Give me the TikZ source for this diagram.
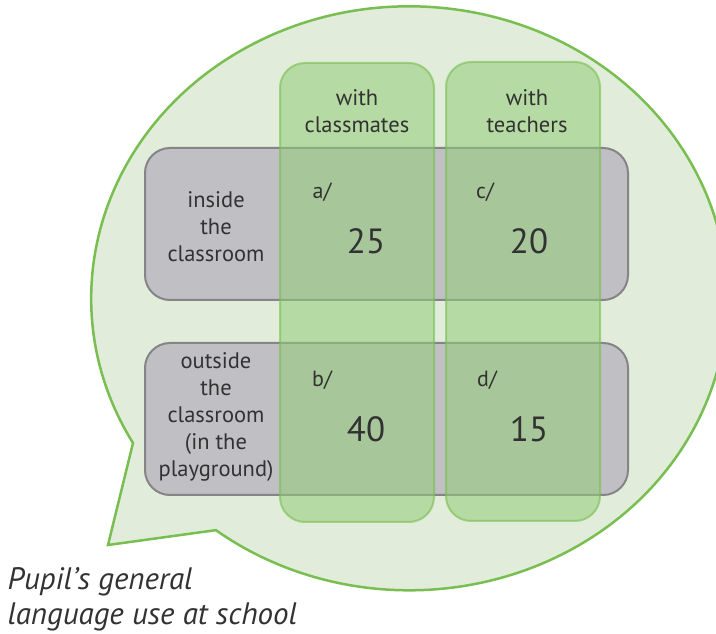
\documentclass[tikz,border=0pt]{standalone}
\usepackage{fontspec}
\setmainfont{PT Sans}
\usepackage{xcolor}
\definecolor{bubblefill}{RGB}{225,237,218}
\definecolor{bubbleline}{RGB}{120,190,80}
\definecolor{boxgrey}{RGB}{192,192,196}
\definecolor{boxline}{RGB}{133,133,136}
\definecolor{colgreen}{RGB}{147,203,118}
\definecolor{textgrey}{RGB}{50,50,50}

\begin{document}
\begin{tikzpicture}[x=1pt, y=1pt,
		bubble/.style={fill=bubblefill, draw=bubbleline, line width=2.5pt, line join=miter},
		rowbox/.style={draw=boxline, fill=boxgrey, line width=2pt, rounded corners=25pt, minimum width=483pt, minimum height=152pt, inner sep=0pt},
		colbox/.style={draw=bubbleline, fill=colgreen, fill opacity=0.55, draw opacity=0.6, line width=2pt, rounded corners=25pt, minimum width=154pt, minimum height=459pt, inner sep=0pt},
		lbl/.style={text=textgrey, align=center, font=\fontsize{22.5}{27}\selectfont},
		tag/.style={text=textgrey, font=\fontsize{22}{24}\selectfont},
		num/.style={text=textgrey, font=\fontsize{35}{38}\selectfont}]
		\useasboundingbox (0,0) rectangle (716,633);
		\clip (0,0) rectangle (716,633);
		% Sprechblase
		\draw[bubble] (217,103) -- (108,88) -- (133,190)
			arc[start angle=209.7, end angle=-127.4, x radius=318, y radius=292] -- cycle;
		% Zeilen
		\node[rowbox] (inside) at (386.5,409) {};
		\node[rowbox] (outside) at (386.5,214) {};
		% Spalten
		\node[colbox] (mates) at (357,340.5) {};
		\node[colbox] (teachers) at (523,341.5) {};
		% Beschriftung
		\node[lbl] (matesT) at (357,522) {with\\classmates};
		\node[lbl] (teachersT) at (527,522) {with\\teachers};
		\node[lbl] (insideT) at (216,406) {inside\\the\\classroom};
		\node[lbl] (outsideT) at (216,216) {outside\\the\\classroom\\(in the\\playground)};
		% Felder
		\node[tag] (a) at (322,441) {a/};
		\node[tag] (c) at (485,441) {c/};
		\node[tag] (b) at (322,253) {b/};
		\node[tag] (d) at (487,253) {d/};
		\node[num] (va) at (366,392) {25};
		\node[num] (vc) at (529,392) {20};
		\node[num] (vb) at (366,204) {40};
		\node[num] (vd) at (529,204) {15};
		% Titel
		\node[lbl, align=left, anchor=west, font=\fontsize{31}{35}\selectfont\itshape] (title) at (4,34) {Pupil’s general\\language use at school};
	\end{tikzpicture}
\end{document}
